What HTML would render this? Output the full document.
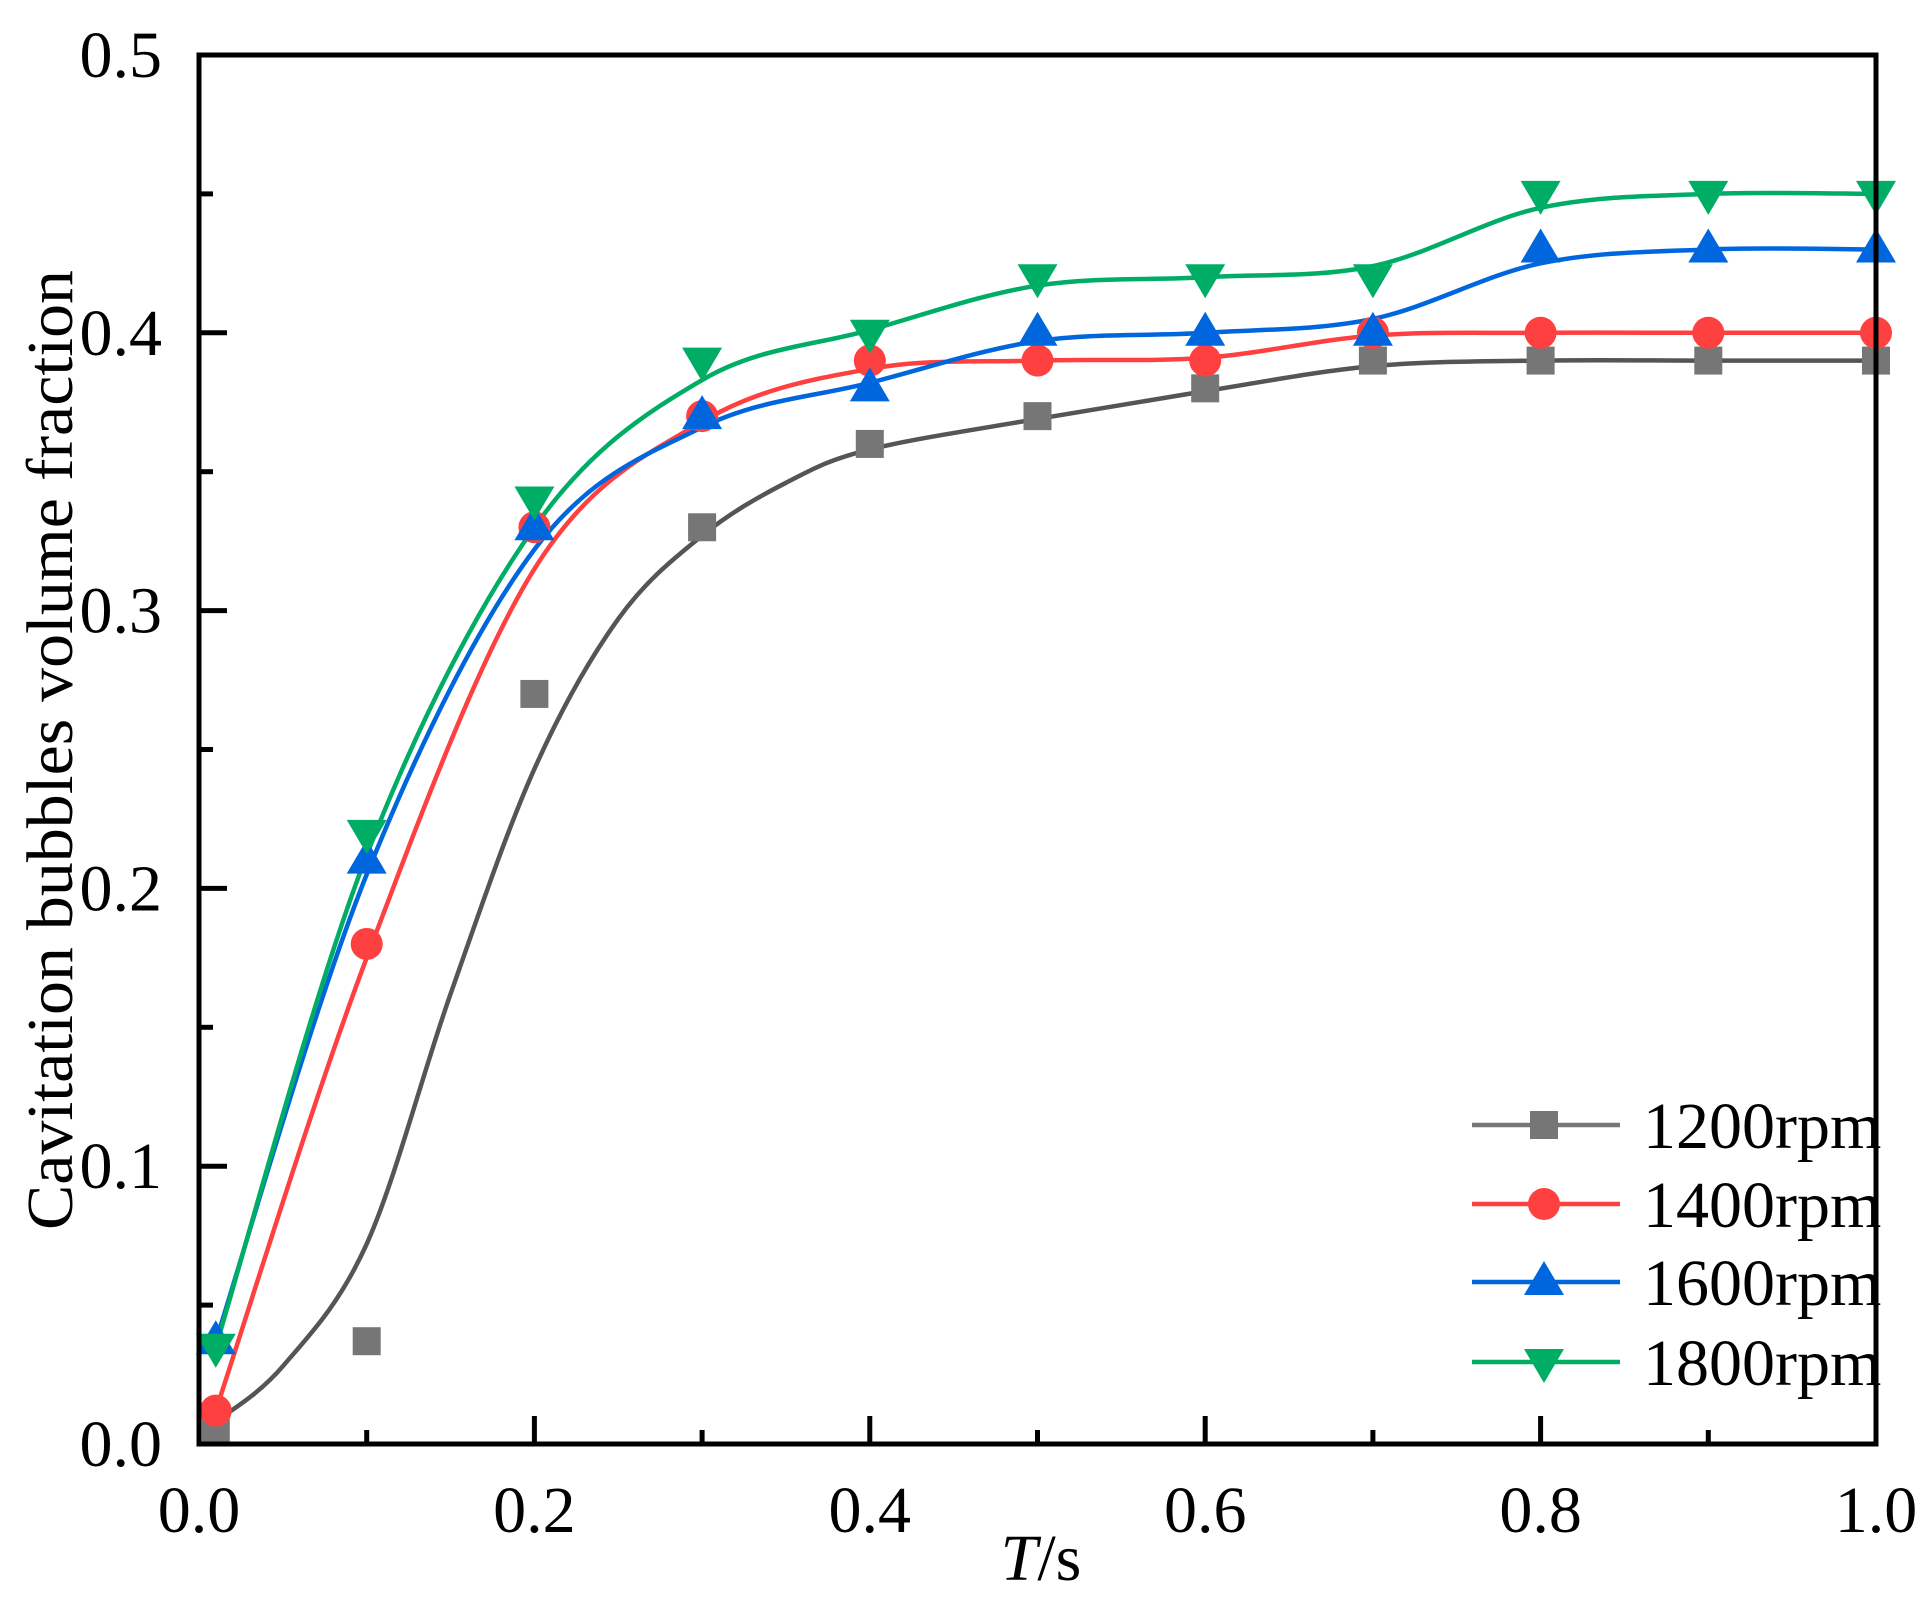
<!DOCTYPE html>
<html><head><meta charset="utf-8"><style>
html,body{margin:0;padding:0;background:#fff}
svg{display:block}
text{font-family:"Liberation Serif","Times New Roman",serif;fill:#000}
</style></head><body>
<svg id="s" width="1932" height="1602" viewBox="0 0 1932 1602" xmlns="http://www.w3.org/2000/svg">
<g id="curves"></g>
<g id="marks"></g>
<g id="axes" stroke="#000" stroke-width="5" fill="none">
<rect x="199" y="55" width="1677" height="1389"/>
</g>
<g id="ticks" stroke="#000" stroke-width="5"></g>
<g id="labels" font-size="66"></g>
<text x="1041" y="1580" font-size="66" text-anchor="middle"><tspan font-style="italic">T</tspan>/s</text>
<text transform="translate(72,750) rotate(-90)" font-size="66" text-anchor="middle" textLength="960" lengthAdjust="spacingAndGlyphs">Cavitation bubbles volume fraction</text>
<g id="legend"></g>
</svg>
<script>
const NS="http://www.w3.org/2000/svg";
const X=t=>199+1677*t, Y=v=>1444-2778*v;
function el(p,tag,a,txt){const e=document.createElementNS(NS,tag);for(const k in a)e.setAttribute(k,a[k]);if(txt!=null)e.textContent=txt;document.getElementById(p).appendChild(e);return e;}
for(let i=0;i<=10;i++){const t=i/10,len=i%2?14:28;
 el('ticks','line',{x1:X(t),y1:1444,x2:X(t),y2:1444-len});
 if(i%2==0) el('labels','text',{x:X(t),y:1532,'text-anchor':'middle'},t.toFixed(1));
 const v=i*0.05;
 el('ticks','line',{x1:199,y1:Y(v),x2:199+len,y2:Y(v)});
 if(i%2==0) el('labels','text',{x:162,y:Y(v)+22,'text-anchor':'end'},v.toFixed(1));
}
function cr(pts){
 let d=`M${X(pts[0][0])},${Y(pts[0][1])}`;
 const P=pts.map(p=>[X(p[0]),Y(p[1])]);
 for(let i=0;i<P.length-1;i++){const p0=P[i-1]||P[i],p1=P[i],p2=P[i+1],p3=P[i+2]||p2;
  const c1=[p1[0]+(p2[0]-p0[0])/6,p1[1]+(p2[1]-p0[1])/6],c2=[p2[0]-(p3[0]-p1[0])/6,p2[1]-(p3[1]-p1[1])/6];
  d+=`C${c1[0]},${c1[1]} ${c2[0]},${c2[1]} ${p2[0]},${p2[1]}`;}
 return d;}
const S=[
 {c:'#555',m:'#767676',k:'sq',
  pts:[[0.01,0.005],[0.1,0.037],[0.2,0.27],[0.3,0.33],[0.4,0.36],[0.5,0.37],[0.6,0.38],[0.7,0.39],[0.8,0.39],[0.9,0.39],[1,0.39]],
  cur:[[0.01,0.008],[0.05,0.028],[0.1,0.072],[0.15,0.162],[0.2,0.243],[0.25,0.297],[0.3,0.327],[0.35,0.346],[0.4,0.358],[0.5,0.369],[0.6,0.379],[0.7,0.388],[0.8,0.39],[0.9,0.39],[1,0.39]]},
 {c:'#ff4040',m:'#ff4040',k:'ci',
  pts:[[0.01,0.012],[0.1,0.18],[0.2,0.33],[0.3,0.37],[0.4,0.39],[0.5,0.39],[0.6,0.39],[0.7,0.40],[0.8,0.40],[0.9,0.40],[1,0.40]],
  cur:[[0.01,0.012],[0.1,0.175],[0.2,0.315],[0.3,0.368],[0.4,0.387],[0.5,0.39],[0.6,0.391],[0.7,0.399],[0.8,0.40],[0.9,0.40],[1,0.40]]},
 {c:'#0066dd',m:'#0066dd',k:'up',
  pts:[[0.01,0.037],[0.1,0.21],[0.2,0.33],[0.3,0.37],[0.4,0.38],[0.5,0.40],[0.6,0.40],[0.7,0.40],[0.8,0.43],[0.9,0.43],[1,0.43]],
  cur:[[0.01,0.037],[0.1,0.205],[0.2,0.322],[0.3,0.366],[0.4,0.382],[0.5,0.397],[0.6,0.40],[0.7,0.405],[0.8,0.425],[0.9,0.43],[1,0.43]]},
 {c:'#00ad65',m:'#00ad65',k:'dn',
  pts:[[0.01,0.035],[0.1,0.22],[0.2,0.34],[0.3,0.39],[0.4,0.40],[0.5,0.42],[0.6,0.42],[0.7,0.42],[0.8,0.45],[0.9,0.45],[1,0.45]],
  cur:[[0.01,0.035],[0.1,0.212],[0.2,0.33],[0.3,0.383],[0.4,0.401],[0.5,0.417],[0.6,0.42],[0.7,0.424],[0.8,0.445],[0.9,0.45],[1,0.45]]}
];
function mk(g,k,x,y,col){
 if(k=='sq')el(g,'rect',{x:x-14,y:y-14,width:28,height:28,fill:col});
 else if(k=='ci')el(g,'circle',{cx:x,cy:y,r:16,fill:col});
 else if(k=='up')el(g,'polygon',{points:`${x},${y-21} ${x-20},${y+13} ${x+20},${y+13}`,fill:col});
 else el(g,'polygon',{points:`${x},${y+21} ${x-20},${y-13} ${x+20},${y-13}`,fill:col});
}
S.forEach(s=>el('curves','path',{d:cr(s.cur),fill:'none',stroke:s.c,'stroke-width':4.5}));
S.forEach(s=>s.pts.forEach(p=>mk('marks',s.k,X(p[0]),Y(p[1]),s.m)));
const names=['1200rpm','1400rpm','1600rpm','1800rpm'],ly=[1125,1204,1282,1362];
S.forEach((s,i)=>{el('legend','line',{x1:1472,y1:ly[i],x2:1620,y2:ly[i],stroke:s.c==='#555'?'#777':s.c,'stroke-width':4.5});
 mk('legend',s.k,1544,ly[i],s.m);
 el('legend','text',{x:1643,y:ly[i]+23,'font-size':66},names[i]);});
</script>
</body></html>
